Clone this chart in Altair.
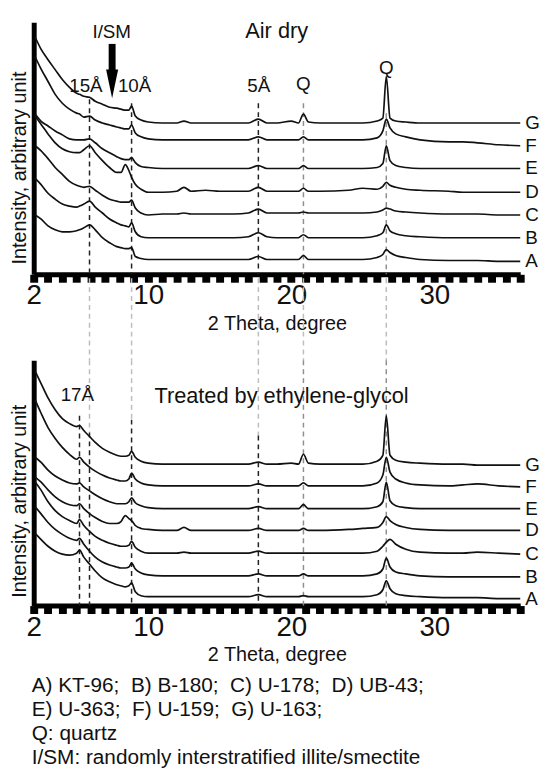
import altair as alt
import pandas as pd

FONT = "Liberation Sans"

# 2-theta sampling positions (degrees)
two_theta = [2.1, 2.5, 3.0, 3.5, 4.0, 4.5, 5.0, 5.2, 5.5, 5.9, 6.3, 6.8, 7.3, 7.8, 8.1, 8.4, 8.65, 8.84, 9.1, 9.5, 10.0,
             11.0, 12.0, 12.5, 13.0, 14.0, 15.0, 16.0, 17.0, 17.7, 18.3, 19.0, 20.0, 20.5, 20.85, 21.2, 22.0,
             24.0, 25.0, 26.0, 26.4, 26.64, 26.9, 27.3, 28.0, 29.0, 31.0, 32.0, 33.0, 34.5, 36.0]

samples = ["A", "B", "C", "D", "E", "F", "G"]

# ---- Air dry (intensity, arbitrary unit incl. vertical offset) ----
air_G = [240, 228, 217, 207, 197, 189, 183, 182, 180, 179, 175, 172, 169, 168, 167, 166, 166, 170, 160, 156, 154,
         153, 153, 155, 153, 153, 153, 153, 153, 157, 153, 153, 155, 153, 162, 154, 153, 153, 153, 155, 158, 200, 158,
         155, 154, 153, 153, 153, 153, 153, 153]
air_F = [220, 208, 195, 182, 173, 167, 163, 162, 159, 160, 156, 153, 151, 149, 148, 147, 147, 151, 143, 139, 137,
         136, 136, 136, 136, 136, 136, 136, 136, 139, 136, 136, 136, 136, 139, 136, 136, 136, 136, 138, 145, 157, 148,
         142, 139, 136, 134, 134, 133, 131, 130]
air_E = [162, 155, 150, 145, 141, 137, 136, 136, 136, 137, 133, 127, 123, 119, 117, 116, 116, 118, 113, 109, 108,
         107, 107, 107, 107, 107, 107, 107, 107, 110, 107, 107, 107, 107, 110, 107, 107, 107, 107, 108, 112, 130, 115,
         110, 108, 107, 107, 107, 107, 107, 107]
air_D = [160, 152, 142, 133, 127, 124, 123, 123, 126, 130, 123, 115, 108, 103, 103, 111, 105, 98, 91, 86, 83,
         83, 84, 88, 84, 85, 84, 84, 84, 88, 84, 84, 84, 84, 87, 84, 84, 85, 87, 86, 89, 93, 90,
         88, 86, 85, 84, 83, 83, 83, 83]
air_C = [130, 125, 117, 108, 101, 94, 90, 89, 88, 89, 85, 80, 76, 74, 73, 73, 73, 75, 67, 62, 60,
         61, 61, 62, 61, 61, 61, 61, 62, 66, 62, 62, 62, 62, 63, 62, 62, 62, 62, 63, 65, 67, 66,
         64, 63, 62, 61, 61, 61, 60, 60]
air_B = [97, 91, 82, 76, 71, 69, 68, 69, 71, 74, 68, 62, 56, 52, 50, 49, 48, 52, 43, 38, 37,
         37, 37, 37, 37, 37, 37, 37, 38, 42, 38, 37, 37, 37, 40, 37, 37, 37, 37, 39, 42, 50, 44,
         41, 39, 38, 37, 37, 37, 37, 37]
air_A = [60, 56, 49, 45, 43, 43, 44, 45, 47, 50, 45, 37, 32, 28, 27, 26, 26, 27, 18, 16, 15,
         15, 15, 15, 15, 15, 15, 15, 15, 18, 15, 15, 15, 15, 19, 15, 15, 15, 15, 17, 20, 25, 22,
         19, 17, 15, 14, 14, 14, 13, 13]

# ---- Treated by ethylene-glycol ----
eg_G = [237, 225, 210, 198, 189, 184, 181, 182, 177, 171, 165, 159, 155, 152, 151, 151, 152, 156, 150, 146, 144,
        143, 143, 143, 143, 143, 143, 143, 143, 145, 143, 143, 144, 143, 153, 144, 143, 143, 143, 146, 152, 192, 152,
        147, 145, 144, 143, 143, 142, 142, 142]
eg_F = [208, 195, 180, 169, 160, 153, 148, 150, 145, 140, 136, 132, 129, 127, 126, 126, 128, 134, 128, 124, 122,
        121, 121, 121, 121, 121, 121, 121, 121, 123, 121, 121, 121, 121, 124, 121, 121, 121, 121, 124, 132, 150, 135,
        128, 124, 122, 121, 122, 123, 121, 120]
eg_E = [150, 145, 137, 131, 127, 124, 123, 124, 120, 116, 112, 108, 105, 103, 103, 103, 105, 109, 104, 101, 99,
        98, 98, 98, 98, 98, 98, 98, 98, 100, 98, 98, 98, 98, 102, 98, 98, 98, 98, 100, 105, 125, 106,
        101, 99, 98, 98, 98, 98, 98, 98]
eg_D = [130, 125, 117, 110, 105, 102, 101, 103, 98, 93, 89, 85, 83, 83, 85, 91, 88, 86, 81, 78, 77,
        76, 76, 79, 76, 76, 76, 76, 76, 78, 76, 76, 76, 76, 78, 76, 76, 77, 78, 79, 84, 90, 86,
        82, 79, 77, 76, 76, 76, 76, 76]
eg_C = [125, 117, 105, 96, 90, 86, 83, 87, 81, 75, 70, 66, 63, 61, 60, 60, 61, 65, 59, 55, 53,
        53, 53, 54, 53, 53, 53, 53, 53, 55, 53, 53, 53, 53, 53, 53, 53, 53, 53, 55, 60, 64, 67,
        62, 57, 54, 53, 53, 54, 53, 52]
eg_B = [100, 93, 84, 77, 72, 68, 66, 68, 62, 55, 49, 44, 41, 39, 38, 38, 39, 43, 37, 33, 31,
        30, 30, 30, 30, 30, 30, 30, 30, 32, 30, 30, 30, 30, 32, 30, 30, 30, 30, 32, 37, 48, 39,
        34, 32, 30, 29, 29, 29, 29, 29]
eg_A = [73, 67, 60, 55, 52, 51, 53, 56, 49, 42, 35, 28, 24, 21, 20, 19, 20, 23, 14, 10, 9,
        9, 9, 9, 9, 9, 9, 9, 9, 11, 9, 9, 9, 9, 10, 9, 9, 9, 9, 11, 16, 25, 17,
        12, 10, 9, 8, 8, 8, 7, 7]

# annotations
air_note_text = ["I/SM", "15Å", "10Å", "5Å", "Q", "Q", "Air dry"]
air_note_theta = [7.45, 5.65, 9.05, 17.73, 20.84, 26.64, 18.98]
air_note_I = [245, 190, 190, 190, 192, 209, 246]
air_note_size = [19, 19, 19, 19, 19, 19, 22]

eg_note_text = ["17Å", "Treated by ethylene-glycol"]
eg_note_theta = [5.05, 19.32]
eg_note_I = [213, 212]
eg_note_size = [19, 22]

# reflection marker lines (2-theta, top of dashed line)
air_dark_theta = [5.9, 8.84, 17.7]
air_dark_top = [177, 173, 173]
air_grey_theta = [20.85, 26.64]
air_grey_top = [173, 163]
link_theta = [5.9, 8.84, 17.7, 20.85, 26.64]

eg_dark_theta = [5.2, 5.9, 8.84, 17.7]
eg_dark_top = [192, 175, 188, 172]
eg_light_theta = [5.9, 8.84, 17.7]
eg_light_bottom = [175, 188, 172]
eg_grey_theta = [20.85, 26.64]

legend_lines = [
    "A) KT-96;\u00a0 B) B-180;\u00a0 C) U-178;\u00a0 D) UB-43;",
    "E) U-363;\u00a0 F) U-159;\u00a0 G) U-163;",
    "Q: quartz",
    "I/SM: randomly interstratified illite/smectite",
]

W = 492
H1, H2 = 255, 248
GAP = 87


def long_df(series):
    rows = []
    for s, vals in series.items():
        assert len(vals) == len(two_theta), s
        for t, v in zip(two_theta, vals):
            rows.append({"sample": s, "theta": t, "I": v})
    return pd.DataFrame(rows)


air_df = long_df(dict(zip(samples, [air_A, air_B, air_C, air_D, air_E, air_F, air_G])))
eg_df = long_df(dict(zip(samples, [eg_A, eg_B, eg_C, eg_D, eg_E, eg_F, eg_G])))

xscale = alt.Scale(domain=[2, 36], nice=False, zero=False)

x_axis = alt.Axis(
    values=list(range(2, 37)),
    labelExpr="(datum.value == 2 || datum.value == 10 || datum.value == 20 || datum.value == 30) ? datum.label : ''",
    labelFontSize=28, labelPadding=0, labelOverlap=False, labelFlush=False,
    domainWidth=5, domainColor="black", tickColor="black", tickSize=8, tickWidth=8,
    title="2 Theta, degree", titleFontSize=20, titlePadding=4, grid=False,
)


def y_axis(title_y):
    return alt.Axis(title="Intensity, arbitrary unit", titleFontSize=20, titlePadding=4, titleY=title_y,
                    domainWidth=5, domainColor="black", ticks=False, labels=False, grid=False)


def make_layers(dom, title_y):
    X = alt.X("theta:Q", scale=xscale, axis=x_axis)
    Y = alt.Y("I:Q", scale=alt.Scale(domain=dom, nice=False, zero=False), axis=y_axis(title_y))

    def rules(theta, top, bottom, color):
        d = pd.DataFrame({"theta": theta, "I": top, "I2": bottom})
        return alt.Chart(d).mark_rule(color=color, strokeWidth=1.5, strokeDash=[5, 4]).encode(
            x=X, y=Y, y2="I2:Q")

    def curves(df):
        return alt.Chart(df).mark_line(color="#111111", strokeWidth=1.7, interpolate="monotone").encode(
            x=X, y=Y, detail="sample:N", order="theta:Q")

    def end_labels(df):
        last = df[df["theta"] == two_theta[-1]]
        return alt.Chart(last).mark_text(align="left", baseline="middle", dx=5, fontSize=19, font=FONT,
                                         color="#111111").encode(x=X, y=Y, text="sample:N")

    def notes(text, theta, I, size):
        d = pd.DataFrame({"t": text, "theta": theta, "I": I, "fs": size})
        return alt.Chart(d).mark_text(align="center", baseline="middle", font=FONT, color="#111111").encode(
            x=X, y=Y, text="t:N", size=alt.Size("fs:Q", scale=None, legend=None))

    return X, Y, rules, curves, end_labels, notes


# ---- top panel ----
X1, Y1, rules1, curves1, labels1, notes1 = make_layers([0, H1], 147)

link = alt.Chart(pd.DataFrame({"theta": link_theta})).mark_rule(
    color="#bdbdbd", strokeWidth=1.5, strokeDash=[5, 4]).encode(
    x=X1, y=alt.value(H1 + 4), y2=alt.value(H1 + GAP))

arrow_shaft = alt.Chart(pd.DataFrame({"theta": [7.48], "I": [233], "I2": [203]})).mark_rule(
    color="black", strokeWidth=7).encode(x=X1, y=Y1, y2="I2:Q")
arrow_head = alt.Chart(pd.DataFrame({"theta": [7.48], "I": [192.5]})).mark_point(
    shape="M-0.42,-1L0.42,-1L0,1Z", filled=True, size=841, color="black", opacity=1).encode(
    x=X1, y=Y1)

top = alt.layer(
    link,
    rules1(air_dark_theta, air_dark_top, [0] * 3, "#222222"),
    rules1(air_grey_theta, air_grey_top, [0] * 2, "#8f8f8f"),
    curves1(air_df),
    labels1(air_df),
    notes1(air_note_text, air_note_theta, air_note_I, air_note_size),
    arrow_shaft, arrow_head,
).properties(width=W, height=H1)

# ---- bottom panel ----
X2, Y2, rules2, curves2, labels2, notes2 = make_layers([0, H2], 142)

bottom = alt.layer(
    rules2(eg_light_theta, [H2] * 3, eg_light_bottom, "#bdbdbd"),
    rules2(eg_grey_theta, [H2] * 2, [0] * 2, "#8f8f8f"),
    rules2(eg_dark_theta, eg_dark_top, [0] * 4, "#222222"),
    curves2(eg_df),
    labels2(eg_df),
    notes2(eg_note_text, eg_note_theta, eg_note_I, eg_note_size),
).properties(
    width=W, height=H2,
    title=alt.TitleParams(text=legend_lines, orient="bottom", anchor="start", frame="group", fontSize=21,
                          font=FONT, fontWeight="normal", color="#111111", lineHeight=24.5, offset=10, dx=-2),
)

chart = alt.vconcat(top, bottom, spacing=GAP, bounds="flush").properties(
    padding={"left": 2, "top": 7, "right": 0, "bottom": 0}
).configure_view(stroke=None).configure_axis(
    labelFont=FONT, titleFont=FONT, labelColor="#111111", titleColor="#111111", titleFontWeight="normal"
)

chart.save("out.html", embed_options={"renderer": "svg", "actions": False})
